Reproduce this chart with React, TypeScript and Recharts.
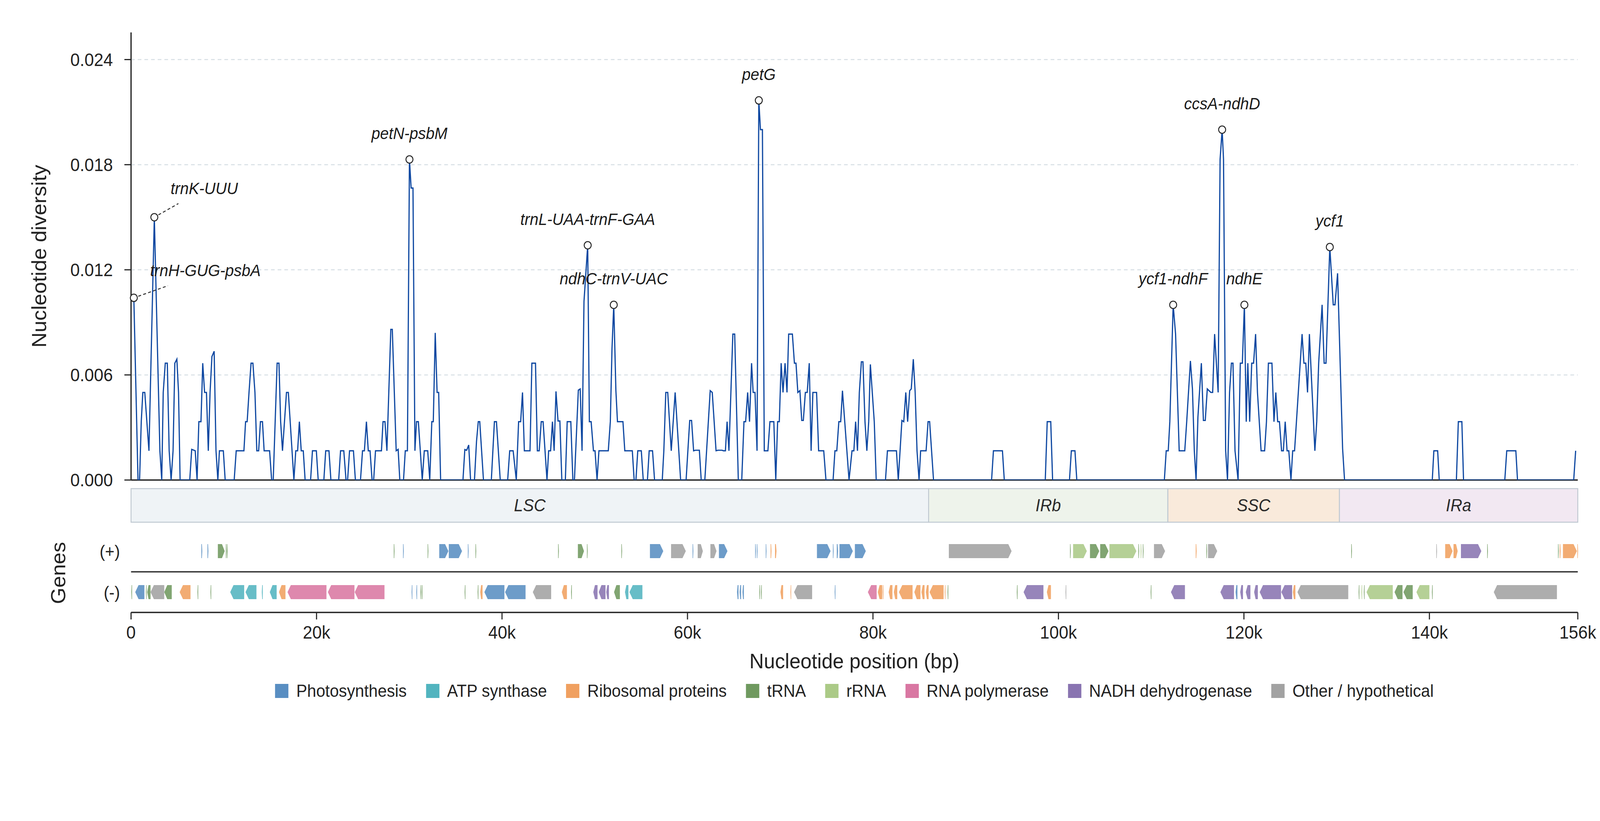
import React from 'react';
import {
  ComposedChart,
  Line,
  XAxis,
  YAxis,
  ReferenceDot,
  ReferenceLine,
  ReferenceArea,
} from 'recharts';

const FONT = '"Liberation Sans", Arial, Helvetica, sans-serif';

// sliding window trace: [position (kb), nucleotide diversity Pi]
const diversityWindows: [number, number][] = [
  [0.30, 0.0104], [0.75, 0], [0.92, 0], [1.10, 0.00333], [1.27, 0.005], [1.48, 0.005], [1.93, 0.00167],
  [2.51, 0.015], [3.11, 0.00167], [3.31, 0], [3.47, 0.005], [3.69, 0.00667], [3.91, 0.00667], [4.11, 0.00167],
  [4.32, 0], [4.53, 0.00167], [4.72, 0.00667], [4.94, 0.0069], [5.12, 0.005], [5.29, 0], [6.33, 0],
  [6.54, 0.00175], [6.92, 0.00167], [7.12, 0], [7.31, 0.00333], [7.54, 0.00333], [7.73, 0.00667], [7.93, 0.005],
  [8.13, 0.005], [8.33, 0.00167], [8.52, 0.005], [8.72, 0.00705], [8.96, 0.00735], [9.16, 0.00167], [9.36, 0],
  [9.53, 0.00167], [9.95, 0.00167], [10.15, 0], [11.12, 0], [11.34, 0.00167], [12.17, 0.00167], [12.35, 0.00333],
  [12.52, 0.00333], [12.72, 0.005], [12.94, 0.00667], [13.14, 0.00667], [13.36, 0.005], [13.56, 0.00167],
  [13.76, 0.00167], [13.95, 0.00333], [14.17, 0.00333], [14.35, 0.00167], [14.94, 0.00167], [15.16, 0],
  [15.33, 0], [15.75, 0.00667], [15.95, 0.00667], [16.13, 0.00333], [16.33, 0.00167], [16.76, 0.005],
  [16.96, 0.005], [17.56, 0], [17.76, 0.00167], [17.96, 0.00167], [18.15, 0.00333], [18.35, 0.00167],
  [18.57, 0.00167], [18.77, 0], [19.36, 0], [19.56, 0.00167], [19.98, 0.00167], [20.18, 0], [20.79, 0],
  [20.99, 0.00167], [21.34, 0.00167], [21.55, 0], [22.39, 0], [22.59, 0.00167], [22.94, 0.00167], [23.18, 0],
  [23.35, 0], [23.56, 0.00167], [23.98, 0.00167], [24.19, 0], [24.74, 0], [24.96, 0.00167], [25.16, 0.00167],
  [25.38, 0.00333], [25.58, 0.00167], [25.77, 0.00167], [25.99, 0], [26.16, 0], [26.36, 0.00167], [27.00, 0.00167],
  [27.17, 0.00333], [27.38, 0.00333], [27.59, 0.00167], [28.01, 0.0086], [28.17, 0.0086], [28.59, 0.00167],
  [28.80, 0.00175], [28.98, 0], [29.38, 0], [29.57, 0.00167], [29.80, 0.00167], [30.02, 0.0183], [30.20, 0.01667],
  [30.40, 0.01667], [30.61, 0.00167], [30.78, 0.00333], [30.98, 0.00333], [31.40, 0], [31.62, 0.00167],
  [31.99, 0.00167], [32.21, 0], [32.43, 0.00333], [32.59, 0.00333], [32.80, 0.0084], [33.00, 0.005], [33.17, 0.005],
  [33.38, 0], [35.79, 0], [35.99, 0.00174], [36.19, 0.0017], [36.41, 0.002], [36.61, 0], [37.03, 0],
  [37.25, 0.0022], [37.44, 0.00333], [37.60, 0.00333], [38.00, 0], [38.85, 0], [39.18, 0.00333], [39.40, 0.00333],
  [39.81, 0], [40.61, 0], [40.83, 0.00167], [41.20, 0.00167], [41.54, 0], [41.79, 0.00333], [42.01, 0.00333],
  [42.21, 0.005], [42.41, 0.00167], [43.02, 0.00167], [43.22, 0.00667], [43.61, 0.00667], [43.81, 0.00167],
  [44.01, 0.00167], [44.23, 0.00333], [44.43, 0.00333], [44.85, 0], [45.03, 0.00167], [45.24, 0.00167],
  [45.44, 0.00333], [45.62, 0.00167], [45.82, 0.00506], [46.04, 0.00337], [46.24, 0.00337], [46.45, 0],
  [46.83, 0], [47.03, 0.00333], [47.42, 0.00333], [47.64, 0], [47.81, 0], [48.23, 0.00513], [48.43, 0.0052],
  [48.63, 0.00167], [48.84, 0.0102], [49.24, 0.0134], [49.42, 0.00333], [49.61, 0.00333], [49.86, 0.00167],
  [50.03, 0.00167], [50.25, 0], [50.45, 0.00167], [51.46, 0.00167], [51.68, 0.00333], [51.86, 0.0075],
  [52.05, 0.01], [52.28, 0.0051], [52.45, 0.00333], [53.04, 0.00333], [53.24, 0.00167], [54.05, 0.00167],
  [54.25, 0], [54.44, 0], [54.64, 0.00167], [55.02, 0.00167], [55.23, 0], [55.68, 0], [55.87, 0.00167],
  [56.23, 0.00167], [56.45, 0], [57.28, 0], [57.45, 0.00167], [57.66, 0.005], [57.87, 0.005], [58.25, 0.00167],
  [58.67, 0.005], [59.26, 0], [59.85, 0], [60.24, 0.0034], [60.44, 0.0034], [60.66, 0.00167], [60.86, 0.0017],
  [61.28, 0.0017], [61.48, 0], [61.87, 0], [62.45, 0.0051], [62.67, 0.005], [63.08, 0.00167], [63.29, 0.0017],
  [63.72, 0.0017], [63.88, 0.00167], [64.09, 0.00167], [64.27, 0.00333], [64.47, 0.00167], [64.89, 0.00833],
  [65.09, 0.00833], [65.48, 0], [65.85, 0], [66.09, 0.00333], [66.27, 0.00333], [66.49, 0.005], [66.69, 0.00333],
  [66.91, 0.00667], [67.08, 0.005], [67.28, 0.005], [67.50, 0.00167], [67.69, 0.02167], [67.87, 0.02],
  [68.08, 0.02], [68.28, 0.00167], [68.67, 0.00167], [68.89, 0.00333], [69.31, 0.00333], [69.52, 0],
  [69.72, 0.00333], [69.90, 0.00333], [70.10, 0.00667], [70.30, 0.005], [70.52, 0.00667], [70.73, 0.005],
  [70.91, 0.00833], [71.31, 0.00833], [71.53, 0.00667], [71.70, 0.00667], [71.90, 0.005], [72.12, 0.0051],
  [72.32, 0.0034], [72.49, 0.0034], [72.71, 0.005], [72.91, 0.005], [73.13, 0.00667], [73.33, 0.00167],
  [73.52, 0.005], [73.92, 0.005], [74.14, 0.00167], [74.69, 0.00167], [74.93, 0], [75.70, 0], [75.90, 0.00167],
  [76.10, 0.00167], [76.32, 0.00333], [76.52, 0.00333], [76.71, 0.0051], [77.42, 0], [77.74, 0.00167],
  [77.94, 0.00167], [78.13, 0.00333], [78.33, 0.00167], [78.53, 0.005], [78.75, 0.00675], [78.92, 0.00675],
  [79.14, 0.00333], [79.34, 0.00167], [79.54, 0.00333], [79.72, 0.0066], [80.14, 0.00333], [80.35, 0],
  [81.35, 0], [81.56, 0.00167], [82.53, 0.00167], [82.73, 0], [83.12, 0.0034], [83.32, 0.00333], [83.54, 0.005],
  [83.74, 0.00333], [83.96, 0.0051], [84.13, 0.0052], [84.35, 0.0069], [84.55, 0.005], [84.75, 0.00167],
  [84.97, 0], [85.14, 0.00167], [85.73, 0.00167], [85.94, 0.00333], [86.11, 0.00333], [86.53, 0], [92.79, 0],
  [92.99, 0.00167], [93.96, 0.00167], [94.16, 0], [98.58, 0], [98.79, 0.00333], [99.17, 0.00333], [99.37, 0],
  [101.19, 0], [101.39, 0.00167], [101.78, 0.00167], [101.98, 0], [111.42, 0], [111.62, 0.00167],
  [111.84, 0.00167], [112.01, 0.00333], [112.37, 0.01], [112.63, 0.00833], [113.02, 0.00167], [113.62, 0.00167],
  [113.83, 0.00333], [114.23, 0.0068], [114.45, 0.0052], [114.65, 0.00167], [114.84, 0], [115.04, 0.0036],
  [115.41, 0.00667], [115.63, 0.0034], [115.83, 0.0034], [116.05, 0.0052], [116.43, 0.005], [116.63, 0.005],
  [116.84, 0.00833], [117.22, 0.005], [117.43, 0.0183], [117.65, 0.02], [117.80, 0.0183], [118.03, 0.00167],
  [118.23, 0], [118.45, 0.005], [118.65, 0.00667], [118.82, 0.00667], [119.04, 0.00167], [119.37, 0],
  [119.61, 0.00667], [119.83, 0.00667], [120.05, 0.01], [120.25, 0.00333], [120.42, 0.00667], [120.62, 0.00333],
  [120.84, 0.00667], [121.04, 0.00667], [121.26, 0.00833], [121.46, 0.005], [121.85, 0.00167], [122.23, 0.00167],
  [122.43, 0.00333], [122.64, 0.00667], [123.02, 0.00667], [123.24, 0.00333], [123.44, 0.005], [123.64, 0.00333],
  [123.83, 0.00333], [124.06, 0.00167], [124.25, 0.00167], [124.45, 0.00333], [124.65, 0.00167],
  [124.84, 0.00167], [125.07, 0], [125.26, 0.00167], [125.46, 0.00167], [126.27, 0.00833], [126.47, 0.00667],
  [126.67, 0.00667], [126.86, 0.005], [127.06, 0.00833], [127.65, 0.00167], [127.85, 0.00333], [128.06, 0.00667],
  [128.43, 0.01], [128.65, 0.00667], [128.85, 0.00667], [129.26, 0.0133], [129.63, 0.01], [129.82, 0.01],
  [130.10, 0.0118], [130.64, 0.0018], [130.85, 0], [140.31, 0], [140.48, 0.00167], [140.89, 0.00167],
  [141.06, 0], [142.91, 0], [143.12, 0.00333], [143.50, 0.00333], [143.68, 0], [148.13, 0], [148.34, 0.00167],
  [149.32, 0.00167], [149.50, 0], [155.56, 0], [155.77, 0.00167],
];

// annotated hotspots
const peakNames = ['trnH-GUG-psbA', 'trnK-UUU', 'petN-psbM', 'trnL-UAA-trnF-GAA', 'ndhC-trnV-UAC', 'petG', 'ycf1-ndhF', 'ccsA-ndhD', 'ndhE', 'ycf1'];
const peakKb = [0.30, 2.51, 30.02, 49.24, 52.05, 67.69, 112.37, 117.65, 120.05, 129.26];
const peakPi = [0.0104, 0.015, 0.0183, 0.0134, 0.01, 0.02167, 0.01, 0.02, 0.01, 0.0133];

// quadripartite structure (kb)
const regionNames = ['LSC', 'IRb', 'SSC', 'IRa'];
const regionStartKb = [0, 86.0, 111.8, 130.3];
const regionEndKb = [86.0, 111.8, 130.3, 156.0];

// gene categories
const categoryKeys = ['ps', 'atp', 'rib', 'trna', 'rrna', 'rpo', 'ndh', 'oth'];
const categoryLabels = ['Photosynthesis', 'ATP synthase', 'Ribosomal proteins', 'tRNA', 'rRNA', 'RNA polymerase', 'NADH dehydrogenase', 'Other / hypothetical'];

// genes: [start kb, end kb, category]
const plusGenes: [number, number, string][] = [
  [7.58, 7.68, 'ps'], [8.24, 8.34, 'ps'], [9.36, 10.1, 'trna'], [10.22, 10.28, 'trna'], [10.34, 10.4, 'trna'],
  [28.33, 28.4, 'trna'], [29.33, 29.4, 'ps'], [31.98, 32.04, 'trna'], [33.23, 34.22, 'ps'], [34.26, 35.69, 'ps'],
  [36.32, 36.4, 'ps'], [37.14, 37.2, 'trna'], [46.05, 46.11, 'trna'], [48.18, 48.84, 'trna'], [49.16, 49.22, 'trna'],
  [52.87, 52.93, 'trna'], [55.95, 57.39, 'ps'], [58.23, 59.82, 'oth'], [60.55, 60.63, 'ps'], [61.1, 61.66, 'oth'],
  [62.47, 63.13, 'oth'], [63.39, 64.31, 'ps'], [67.3, 67.36, 'ps'], [67.48, 67.54, 'ps'], [68.44, 68.52, 'ps'],
  [68.96, 69.06, 'rib'], [69.44, 69.6, 'rib'], [73.96, 75.43, 'ps'], [75.68, 75.76, 'ps'], [76.1, 76.24, 'ps'],
  [76.39, 77.83, 'ps'], [78.05, 79.23, 'ps'], [88.18, 94.95, 'oth'], [101.25, 101.31, 'trna'], [101.58, 103.06, 'rrna'],
  [103.4, 104.4, 'trna'], [104.5, 105.4, 'trna'], [105.5, 108.4, 'rrna'], [108.62, 108.68, 'trna'],
  [108.87, 108.93, 'rrna'], [109.1, 109.16, 'trna'], [110.3, 111.5, 'oth'], [114.8, 114.9, 'rib'],
  [115.95, 116.01, 'trna'], [116.13, 117.12, 'oth'], [131.57, 131.63, 'trna'], [140.74, 140.82, 'oth'],
  [141.7, 142.5, 'rib'], [142.6, 143.05, 'rib'], [143.4, 145.6, 'ndh'], [146.23, 146.29, 'trna'],
  [153.87, 153.93, 'trna'], [154.05, 154.15, 'rib'], [154.4, 155.9, 'rib'], [155.95, 156.0, 'rib'],
];

const minusGenes: [number, number, string][] = [
  [0.03, 0.1, 'trna'], [0.45, 1.44, 'ps'], [1.6, 1.66, 'trna'], [1.74, 2.1, 'trna'], [2.1, 3.58, 'oth'],
  [3.58, 4.39, 'trna'], [5.24, 6.41, 'rib'], [7.16, 7.22, 'trna'], [8.56, 8.62, 'trna'], [10.69, 12.2, 'atp'],
  [12.34, 13.52, 'atp'], [14.1, 14.2, 'atp'], [14.96, 15.7, 'atp'], [15.95, 16.65, 'rib'], [16.87, 21.07, 'rpo'],
  [21.22, 24.09, 'rpo'], [24.12, 27.33, 'rpo'], [30.25, 30.32, 'ps'], [30.76, 30.82, 'ps'], [31.2, 31.26, 'trna'],
  [31.34, 31.4, 'trna'], [35.97, 36.03, 'trna'], [37.37, 37.43, 'trna'], [37.65, 37.9, 'rib'], [38.1, 40.26, 'ps'],
  [40.33, 42.54, 'ps'], [43.32, 45.3, 'oth'], [46.45, 47.0, 'rib'], [47.45, 47.51, 'trna'], [49.84, 50.3, 'ndh'],
  [50.43, 51.16, 'ndh'], [51.24, 51.53, 'ndh'], [52.08, 52.71, 'trna'], [53.26, 53.63, 'atp'], [53.74, 55.14, 'atp'],
  [65.34, 65.5, 'ps'], [65.62, 65.78, 'ps'], [65.93, 66.08, 'ps'], [67.74, 67.8, 'trna'], [67.93, 67.99, 'trna'],
  [70.02, 70.31, 'rib'], [71.1, 71.16, 'rib'], [71.49, 73.44, 'oth'], [75.87, 75.93, 'ps'], [79.45, 80.4, 'rpo'],
  [80.52, 81.0, 'rib'], [81.05, 81.12, 'rib'], [81.69, 82.1, 'rib'], [82.25, 82.62, 'rib'], [82.8, 84.27, 'rib'],
  [84.46, 85.12, 'rib'], [85.23, 85.56, 'rib'], [85.7, 86.0, 'rib'], [86.1, 87.62, 'rib'], [87.74, 87.8, 'rib'],
  [88.04, 88.1, 'trna'], [95.51, 95.57, 'trna'], [96.24, 98.38, 'ndh'], [98.75, 99.19, 'rib'],
  [100.76, 100.84, 'oth'], [109.94, 110.0, 'trna'], [112.13, 113.64, 'ndh'], [117.46, 118.93, 'ndh'],
  [119.1, 119.3, 'ps'], [119.6, 119.9, 'ndh'], [120.2, 120.7, 'ndh'], [121.1, 121.5, 'ndh'], [121.7, 124.0, 'ndh'],
  [124.03, 125.2, 'ndh'], [125.28, 125.55, 'rib'], [125.77, 131.25, 'oth'], [132.37, 132.43, 'trna'],
  [132.67, 132.73, 'rrna'], [132.93, 132.99, 'trna'], [133.22, 136.05, 'rrna'], [136.24, 137.1, 'trna'],
  [137.2, 138.2, 'trna'], [138.6, 140.0, 'rrna'], [140.27, 140.33, 'trna'], [146.94, 153.75, 'oth'],
];

const xTicks = [0, 20000, 40000, 60000, 80000, 100000, 120000, 140000, 156000];
const yTicks = [0, 0.006, 0.012, 0.018, 0.024];

// styling
const CAT_COLORS: Record<string, string> = {
  ps: '#598ec2',
  atp: '#52b4bf',
  rib: '#f0a060',
  trna: '#6f995f',
  rrna: '#abca87',
  rpo: '#d977a2',
  ndh: '#8974b1',
  oth: '#a2a2a2',
};
const REGION_FILLS = ['#eff3f6', '#eef3eb', '#f9eadb', '#f2e8f2'];
const AXIS = '#262626';
const TEXT = '#222222';

// the figure is laid out on a 4322 px wide page
const DESIGN_W = 4322;

// label offsets for the two callouts near the origin
const CALLOUTS: Record<string, { tx: number; ty: number; lead: number[] }> = {
  'trnK-UUU': { tx: 44, ty: -59, lead: [11, -6, 65, -35] },
  'trnH-GUG-psbA': { tx: 44, ty: -56, lead: [12, -4, 92, -31] },
};

// gene track rows in the lower chart (y units = px above x axis)
const PLUS_ROW = [139, 175];
const MINUS_ROW = [34, 70];
const REGION_ROW = [231, 317];

function PeakMarker(props: any) {
  const { cx, cy, label } = props;
  if (cx == null || cy == null) return null;
  const c = CALLOUTS[label];
  return (
    <g>
      {c && (
        <line
          x1={cx + c.lead[0]} y1={cy + c.lead[1]} x2={cx + c.lead[2]} y2={cy + c.lead[3]}
          stroke="#333" strokeWidth={2.5} strokeDasharray="8 6"
        />
      )}
      <circle cx={cx} cy={cy} r={9.5} fill="#fff" stroke={AXIS} strokeWidth={2.6} />
      <text
        x={c ? cx + c.tx : cx}
        y={c ? cy + c.ty : cy - 52}
        textAnchor={c ? 'start' : 'middle'}
        fontSize={42}
        fontStyle="italic"
        fontFamily={FONT}
        fill="#1a1a1a"
      >
        {label}
      </text>
    </g>
  );
}

function GeneArrow(props: any) {
  const { x, y, width, height, strand, color } = props;
  if (x == null || y == null) return null;
  const w = Math.max(width, 2);
  const head = Math.min(9, w * 0.4);
  const x1 = x + w;
  const ym = y + height / 2;
  const pts = strand > 0
    ? `${x},${y} ${x1 - head},${y} ${x1},${ym} ${x1 - head},${y + height} ${x},${y + height}`
    : `${x + head},${y} ${x1},${y} ${x1},${y + height} ${x + head},${y + height} ${x},${ym}`;
  return <polygon points={pts} fill={color} fillOpacity={0.88} />;
}

function RegionBox(props: any) {
  const { x, y, width, height, fill, name } = props;
  if (x == null || y == null) return null;
  return (
    <g>
      <rect x={x} y={y} width={width} height={height} fill={fill} stroke="#bfc8d1" strokeWidth={2.5} />
      <text
        x={x + width / 2} y={y + height / 2} dy="0.35em" textAnchor="middle"
        fontSize={44} fontStyle="italic" fontFamily={FONT} fill="#2a2a2a"
      >
        {name}
      </text>
    </g>
  );
}

export default function App() {
  const data = diversityWindows.map(([kb, pi]) => ({ pos: Math.round(kb * 1000), pi }));
  // span of the genome, used to anchor the gene-map axes
  const span = [{ pos: 0, row: 0 }, { pos: regionEndKb[regionEndKb.length - 1] * 1000, row: 0 }];
  const tickStyle = { fontSize: 46, fill: TEXT, fontFamily: FONT };

  // fit the 4322 px design into whatever width the window really has
  const vw = typeof document !== 'undefined'
    ? (document.documentElement.clientWidth || window.innerWidth || DESIGN_W)
    : DESIGN_W;
  const sx = vw / DESIGN_W;

  return (
    <div style={{ position: 'relative', width: vw, height: 2086, margin: -8, overflow: 'hidden', background: '#fff' }}>
      <div
        style={{
          position: 'absolute', left: 0, top: 0, width: DESIGN_W, height: 2102,
          transform: `scaleX(${sx})`, transformOrigin: '0 0',
        }}
      >
        <div style={{ position: 'absolute', left: 8, top: 8, width: 4306, height: 2086, fontFamily: FONT }}>
          {/* regions + gene map (drawn first so the trace's bottom tick label stays on top) */}
          <div style={{ position: 'absolute', left: 0, top: 1232 }}>
            <ComposedChart width={4306} height={488} data={span} margin={{ top: 0, right: 52, bottom: 0, left: 0 }}>
              <XAxis
                type="number"
                dataKey="pos"
                domain={[0, 156000]}
                allowDataOverflow
                ticks={xTicks}
                interval={0}
                tickFormatter={(v: number) => (v === 0 ? '0' : `${v / 1000}k`)}
                height={160}
                tickSize={18}
                tickMargin={16}
                tick={tickStyle}
                axisLine={{ stroke: AXIS, strokeWidth: 3.4 }}
                tickLine={{ stroke: AXIS, strokeWidth: 3 }}
                label={(p: any) => {
                  const vb = p.viewBox || { x: 346, y: 328, width: 3908, height: 160 };
                  return (
                    <text x={vb.x + vb.width / 2} y={vb.y + 143} textAnchor="middle"
                      fontSize={54} fill={TEXT} fontFamily={FONT}>
                      Nucleotide position (bp)
                    </text>
                  );
                }}
              />
              <YAxis
                type="number"
                domain={[0, 328]}
                allowDataOverflow
                ticks={[157, 52]}
                interval={0}
                tickFormatter={(v: number) => (v > 100 ? '(+)' : '(-)')}
                width={346}
                tickSize={0}
                tickMargin={30}
                tick={{ fontSize: 44, fill: TEXT, fontFamily: FONT }}
                axisLine={false}
                tickLine={false}
                label={(p: any) => {
                  const vb = p.viewBox || { x: 0, y: 0 };
                  const cx = 149;
                  const cy = vb.y + 227;
                  return (
                    <text x={cx} y={cy} transform={`rotate(-90 ${cx} ${cy})`} textAnchor="middle"
                      dominantBaseline="central" fontSize={54} fill={TEXT} fontFamily={FONT}>
                      Genes
                    </text>
                  );
                }}
              />
              <Line dataKey="row" stroke="none" dot={false} activeDot={false} isAnimationActive={false} />
              {regionNames.map((name, i) => (
                <ReferenceArea
                  key={name}
                  x1={regionStartKb[i] * 1000}
                  x2={regionEndKb[i] * 1000}
                  y1={REGION_ROW[0]}
                  y2={REGION_ROW[1]}
                  shape={(p: any) => <RegionBox {...p} fill={REGION_FILLS[i]} name={name} />}
                />
              ))}
              <ReferenceLine y={104} stroke="#333" strokeWidth={3.4} />
              {plusGenes.map(([s, e, cat], i) => (
                <ReferenceArea
                  key={`p${i}`}
                  x1={s * 1000}
                  x2={e * 1000}
                  y1={PLUS_ROW[0]}
                  y2={PLUS_ROW[1]}
                  shape={(p: any) => <GeneArrow {...p} strand={1} color={CAT_COLORS[cat]} />}
                />
              ))}
              {minusGenes.map(([s, e, cat], i) => (
                <ReferenceArea
                  key={`m${i}`}
                  x1={s * 1000}
                  x2={e * 1000}
                  y1={MINUS_ROW[0]}
                  y2={MINUS_ROW[1]}
                  shape={(p: any) => <GeneArrow {...p} strand={-1} color={CAT_COLORS[cat]} />}
                />
              ))}
            </ComposedChart>
          </div>

          {/* diversity trace */}
          <div style={{ position: 'absolute', left: 0, top: 0, pointerEvents: 'none' }}>
            <ComposedChart width={4306} height={1255} data={data} margin={{ top: 75, right: 52, bottom: 34, left: 0 }}>
              <XAxis type="number" dataKey="pos" domain={[0, 156000]} allowDataOverflow hide />
              <YAxis
                type="number"
                domain={[0, 0.02555]}
                allowDataOverflow
                ticks={yTicks}
                interval={0}
                tickFormatter={(v: number) => v.toFixed(3)}
                width={346}
                tickSize={18}
                tickMargin={31}
                tick={tickStyle}
                axisLine={{ stroke: AXIS, strokeWidth: 3.4 }}
                tickLine={{ stroke: AXIS, strokeWidth: 3 }}
                label={(p: any) => {
                  const vb = p.viewBox || { x: 0, y: 75, width: 346, height: 1146 };
                  const cx = 97;
                  const cy = vb.y + vb.height / 2;
                  return (
                    <text x={cx} y={cy} transform={`rotate(-90 ${cx} ${cy})`} textAnchor="middle"
                      dominantBaseline="central" fontSize={54} fill={TEXT} fontFamily={FONT}>
                      Nucleotide diversity
                    </text>
                  );
                }}
              />
              {yTicks.slice(1).map((t) => (
                <ReferenceLine key={t} y={t} stroke="#d6dee4" strokeDasharray="10 8" strokeWidth={2.5} />
              ))}
              <ReferenceLine y={0} stroke={AXIS} strokeWidth={3.4} />
              <Line
                type="linear"
                dataKey="pi"
                stroke="#0d47a1"
                strokeWidth={3.2}
                dot={false}
                activeDot={false}
                isAnimationActive={false}
              />
              {peakNames.map((name, i) => (
                <ReferenceDot
                  key={name}
                  x={Math.round(peakKb[i] * 1000)}
                  y={peakPi[i]}
                  r={9.5}
                  shape={(p: any) => <PeakMarker {...p} label={name} />}
                />
              ))}
            </ComposedChart>
          </div>

          {/* legend */}
          <div
            style={{
              position: 'absolute',
              left: 346,
              width: 3908,
              top: 1739,
              height: 44,
              display: 'flex',
              justifyContent: 'center',
              alignItems: 'center',
              gap: 52,
              fontSize: 44,
              lineHeight: '44px',
              color: TEXT,
              fontFamily: FONT,
            }}
          >
            {categoryKeys.map((k, i) => (
              <div key={k} style={{ display: 'flex', alignItems: 'center', gap: 21, whiteSpace: 'nowrap' }}>
                <div style={{ width: 36, height: 36, background: CAT_COLORS[k] }} />
                <span>{categoryLabels[i]}</span>
              </div>
            ))}
          </div>
        </div>
      </div>
    </div>
  );
}
